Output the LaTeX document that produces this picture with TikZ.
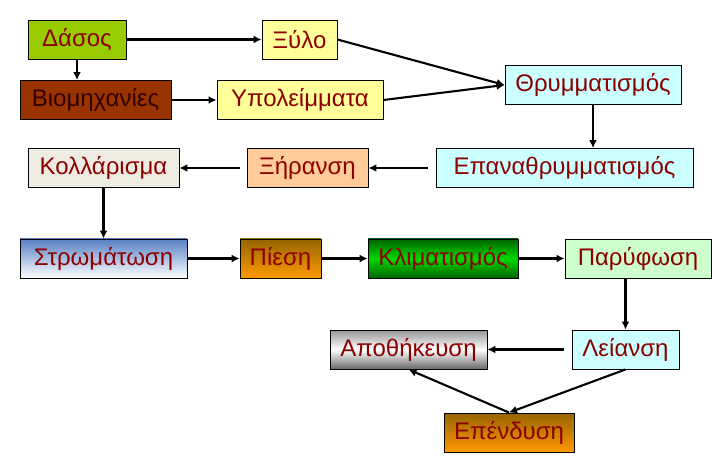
\documentclass[tikz,border=0pt]{standalone}
\usepackage{fontspec}
\setmainfont{Liberation Sans}
\usepackage{tikz}
\usetikzlibrary{arrows.meta}
\definecolor{wordred}{RGB}{140,0,0}
\definecolor{forestfill}{RGB}{153,204,0}
\definecolor{paleyellow}{RGB}{255,255,153}
\definecolor{rustfill}{RGB}{153,51,0}
\definecolor{darkrust}{RGB}{50,0,0}
\definecolor{palecyan}{RGB}{204,255,255}
\definecolor{paper}{RGB}{238,236,225}
\definecolor{peach}{RGB}{255,204,153}
\definecolor{palegreen}{RGB}{204,255,204}
\definecolor{layerblue}{RGB}{85,128,195}
\definecolor{pressbrown}{RGB}{150,100,0}
\definecolor{pressorange}{RGB}{255,153,0}
\definecolor{climdark}{RGB}{0,100,0}
\definecolor{climbright}{RGB}{0,215,0}
\definecolor{storegrey}{RGB}{150,150,150}
\definecolor{storedark}{RGB}{105,105,105}

\begin{document}
\begin{tikzpicture}[x=1pt,y=-1pt,
  box/.style={draw=black, line width=0.9pt, minimum height=39pt, inner sep=0pt,
    text=wordred, font=\fontsize{24}{28}\selectfont},
  link/.style={line width=2.1pt, -{Latex[length=8pt, width=8pt]}}]
\useasboundingbox (0,0) rectangle (712,462);
% first rows
\node[box, fill=forestfill, minimum width=98pt] (dasos) at (77,39.5) {Δάσος};
\node[box, fill=paleyellow, minimum width=75pt] (xylo) at (299.5,39.5) {Ξύλο};
\node[box, fill=rustfill, text=darkrust, minimum width=151pt] (viom) at (95.5,100) {Βιομηχανίες};
\node[box, fill=paleyellow, minimum width=166pt] (ypol) at (300,100) {Υπολείμματα};
\node[box, fill=palecyan, minimum width=176pt] (thrym) at (593,85) {Θρυμματισμός};
\node[box, fill=palecyan, minimum width=257pt] (epan) at (564.5,168) {Επαναθρυμματισμός};
\node[box, fill=peach, minimum width=121pt] (xiran) at (307.5,168) {Ξήρανση};
\node[box, fill=paper, minimum width=151pt] (kollar) at (103.5,168) {Κολλάρισμα};
% shaded row
\node[box, top color=layerblue, bottom color=white, minimum width=167pt] (strom) at (103.5,258.5) {Στρωμάτωση};
\node[box, top color=pressbrown, bottom color=pressorange, minimum width=81pt] (piesi) at (280.5,258.5) {Πίεση};
\node[box, top color=climdark, bottom color=climdark, middle color=climbright, minimum width=150pt] (klim) at (443,258.5) {Κλιματισμός};
\node[box, fill=palegreen, minimum width=146pt] (paryf) at (638,258.5) {Παρύφωση};
% last rows
\node[box, fill=palecyan, minimum width=107pt] (leian) at (625.5,349.5) {Λείανση};
\node[box, top color=storegrey, bottom color=storedark, middle color=white, minimum width=157pt] (apoth) at (408.5,349.5) {Αποθήκευση};
\node[box, top color=pressbrown, bottom color=pressorange, minimum width=130pt] (epend) at (509,432.5) {Επένδυση};
% connectors
\draw[link] (dasos) -- (xylo);
\draw[link] (dasos) -- (dasos |- viom.north);
\draw[link] (viom) -- (ypol);
\draw[link] (xylo.east) -- (thrym.west);
\draw[link] (ypol.east) -- (thrym.west);
\draw[link] (thrym) -- (thrym |- epan.north);
\draw[link, shorten <=8pt] (epan.west) -- (xiran.east);
\draw[link, shorten <=7pt] (xiran) -- (kollar);
\draw[link] (kollar) -- (kollar |- strom.north);
\draw[link] (strom) -- (piesi);
\draw[link] (piesi) -- (klim);
\draw[link] (klim) -- (paryf);
\draw[link] (leian |- paryf.south) -- (leian);
\draw[link, shorten <=8pt] (leian) -- (apoth);
\draw[link] (leian.south) -- (epend.north);
\draw[link] (epend.north) -- (apoth.south);
\end{tikzpicture}
\end{document}
